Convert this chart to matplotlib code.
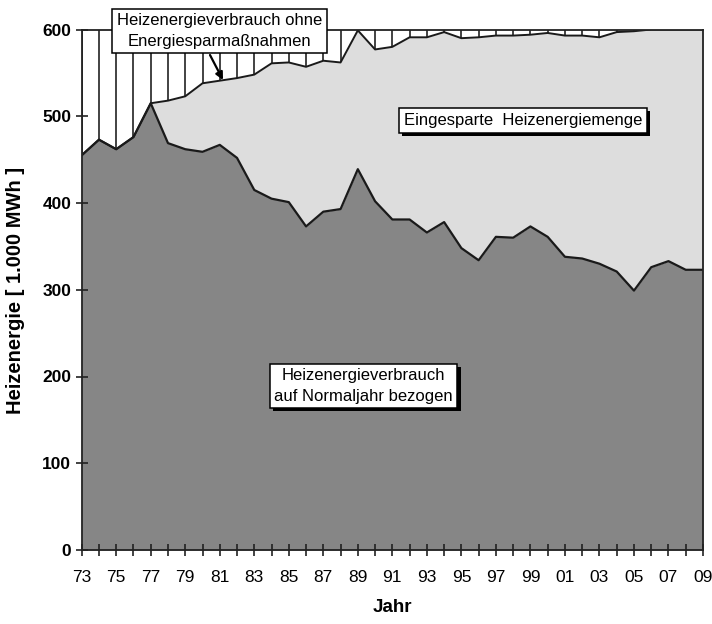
import matplotlib
matplotlib.use("Agg")
import matplotlib.pyplot as plt
import matplotlib.patheffects as pe
import numpy as np

# ---- data ----
years = list(range(1973, 2010))
consumption_normal = [455, 473, 462, 476, 515, 469, 462, 459, 467, 452,
                      415, 405, 401, 373, 390, 393, 439, 402, 381, 381,
                      366, 378, 348, 334, 361, 360, 373, 361, 338, 336,
                      330, 321, 299, 326, 333, 323, 323]
consumption_without_saving = [455, 473, 462, 476, 515, 518, 523, 538, 541, 544,
                              548, 561, 562, 557, 564, 562, 599, 577, 580, 591,
                              591, 597, 590, 591, 593, 593, 594, 596, 593, 593,
                              591, 597, 598, 600, 600, 600, 600]
y_ticks = [0, 100, 200, 300, 400, 500, 600]
x_tick_years = list(range(1973, 2010, 2))
x_tick_labels = [f"{y % 100:02d}" for y in x_tick_years]

label_top = "Heizenergieverbrauch ohne\nEnergiesparmaßnahmen"
label_saved = "Eingesparte  Heizenergiemenge"
label_normal = "Heizenergieverbrauch\nauf Normaljahr bezogen"

plt.rcParams['font.family'] = ['Liberation Sans', 'DejaVu Sans']

W, H = 712, 624
fig = plt.figure(figsize=(W / 100, H / 100), dpi=100)
fig.patch.set_facecolor('white')
ax = fig.add_axes([81.7 / W, 1 - 550 / H, (703 - 81.7) / W, (550 - 29.5) / H])

yrs = np.array(years)
low = np.array(consumption_normal)
up = np.array(consumption_without_saving)

dark = '#868686'
light = '#dddddd'
ax.fill_between(yrs, 0, low, color=dark, lw=0, zorder=1)
ax.fill_between(yrs, low, up, color=light, lw=0, zorder=1)
ax.vlines(yrs, up, 600, color='#222222', lw=1.2, zorder=2)
ax.plot(yrs, up, color='#1a1a1a', lw=1.4, zorder=3)
ax.plot(yrs, low, color='#1a1a1a', lw=1.6, zorder=3)

ax.set_xlim(1973, 2009)
ax.set_ylim(0, 600)

for s in ax.spines.values():
    s.set_color('#222222')
    s.set_linewidth(1.3)
    s.set_zorder(4)

ax.set_yticks(y_ticks)
ax.set_yticklabels([str(v) for v in y_ticks], fontsize=12.5, fontweight='bold')
ax.set_xticks(years)
ax.set_xticklabels([x_tick_labels[x_tick_years.index(y)] if y in x_tick_years else ''
                    for y in years], fontsize=12.5)
ax.tick_params(axis='both', direction='inout', length=9, width=1.2, color='#222222')
ax.tick_params(axis='x', pad=10)
ax.tick_params(axis='y', pad=3)

fig.text(16 / W, 1 - 290 / H, "Heizenergie [ 1.000 MWh ]", rotation=90,
         ha='center', va='center', fontsize=14.5, fontweight='bold')
fig.text(392 / W, 1 - 608 / H, "Jahr", ha='center', va='center',
         fontsize=13.5, fontweight='bold')

box_kw = dict(boxstyle='square,pad=0.28', facecolor='white', edgecolor='black', lw=1.1)
t1 = fig.text(219.5 / W, 1 - 31 / H, label_top, ha='center', va='center',
              fontsize=12, linespacing=1.45, bbox=box_kw, zorder=6)
t2 = fig.text(523 / W, 1 - 120.5 / H, label_saved, ha='center', va='center',
              fontsize=12, bbox=box_kw, zorder=6)
t3 = fig.text(363.5 / W, 1 - 386 / H, label_normal, ha='center', va='center',
              fontsize=12, linespacing=1.45, bbox=box_kw, zorder=6)
for t in (t2, t3):
    t.get_bbox_patch().set_path_effects([
        pe.SimplePatchShadow(offset=(2.2, -2.2), shadow_rgbFace='black', alpha=1.0),
        pe.Normal()])

ax.annotate('', xy=(223 / W, 1 - 80 / H), xytext=(210 / W, 1 - 55 / H),
            xycoords='figure fraction', textcoords='figure fraction',
            arrowprops=dict(arrowstyle='-|>', color='black', lw=1.6,
                            mutation_scale=11, shrinkA=0, shrinkB=0),
            zorder=7, annotation_clip=False)

fig.savefig('out.png', dpi=100)
